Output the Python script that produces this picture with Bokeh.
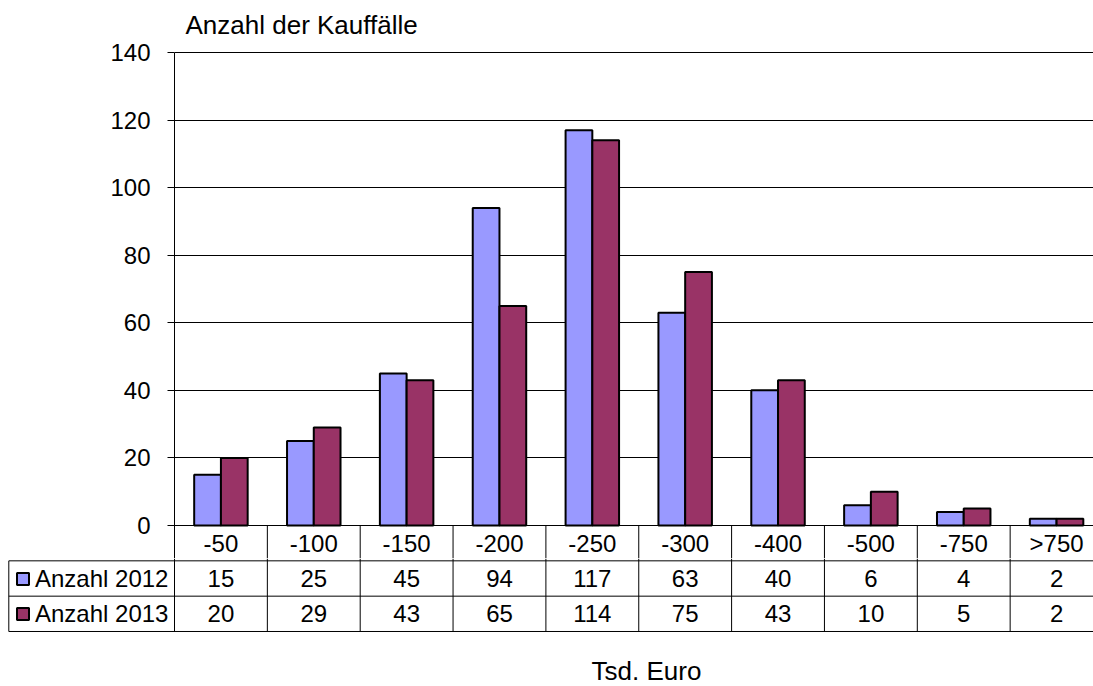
import numpy as np
from bokeh.plotting import figure
from bokeh.layouts import column
from bokeh.models import Range1d, FixedTicker, ColumnDataSource, Legend, LegendItem
from bokeh.core.properties import value
from bokeh.embed import file_html
from bokeh.resources import INLINE

# ---------------- data ----------------
categories = ["-50", "-100", "-150", "-200", "-250", "-300", "-400", "-500", "-750", ">750"]
anzahl_2012 = [15, 25, 45, 94, 117, 63, 40, 6, 4, 2]
anzahl_2013 = [20, 29, 43, 65, 114, 75, 43, 10, 5, 2]
series_names = ["Anzahl 2012", "Anzahl 2013"]
y_ticks = [0, 20, 40, 60, 80, 100, 120, 140]
y_title = "Anzahl der Kauffälle"
x_title = "Tsd. Euro"

# ---------------- layout (pixels) ----------------
W = 1093
FRAME_L = 174          # left edge of plot area
TOP_Y = 52             # pixel row of the highest tick (140)
ZERO_Y = 525           # pixel row of value 0
SPLIT = 558            # where the bar figure ends and the table figure starts
COL_PX = 92.85         # width of one category column
ROW_PX = 35.33         # data-table row height
H1 = SPLIT
H2 = 686 - SPLIT
TABLE_LEFT = 8.3

FONT = "Liberation Sans"
FS = "24px"
C2012 = "#9999FF"
C2013 = "#993366"

y_max = y_ticks[-1]
px_per_unit = (ZERO_Y - TOP_Y) / y_max
y_bottom = -(SPLIT - ZERO_Y) / px_per_unit
y_upper = y_max + TOP_Y / px_per_unit
x_end = (W - FRAME_L) / COL_PX
n = len(categories)
idx = np.arange(n)

# ================= top figure: bars + header row =================
p = figure(width=W, height=H1, output_backend="svg", toolbar_location=None,
           x_range=Range1d(0, x_end), y_range=Range1d(y_bottom, y_upper),
           x_axis_location=None,
           min_border_left=FRAME_L, min_border_right=0, min_border_top=0,
           min_border_bottom=0)
p.frame_align = False
p.outline_line_color = None
p.background_fill_color = "white"
p.border_fill_color = "white"

p.xgrid.visible = False
p.ygrid.ticker = FixedTicker(ticks=y_ticks)
p.ygrid.grid_line_color = "#000000"
p.ygrid.grid_line_width = 1
p.yaxis.ticker = FixedTicker(ticks=y_ticks)
p.yaxis.bounds = (y_bottom, y_max)
p.yaxis.major_label_text_font = FONT
p.yaxis.major_label_text_font_size = FS
p.yaxis.major_label_text_color = "black"
p.yaxis.major_tick_out = 7
p.yaxis.major_tick_in = 0
p.yaxis.minor_tick_line_color = None
p.yaxis.axis_line_color = "black"
p.yaxis.major_tick_line_color = "black"
p.yaxis.major_label_standoff = 17

bw = 0.288
src = ColumnDataSource(dict(x1=idx + 0.5 - bw / 2, x2=idx + 0.5 + bw / 2,
                            a=anzahl_2012, b=anzahl_2013))
p.vbar(x="x1", top="a", bottom=0, width=bw, source=src,
       fill_color=C2012, line_color="black", line_width=2)
p.vbar(x="x2", top="b", bottom=0, width=bw, source=src,
       fill_color=C2013, line_color="black", line_width=2)

# header row of the data table: column lines and category names
p.segment(x0=list(range(1, n)), x1=list(range(1, n)), y0=[0] * (n - 1),
          y1=[y_bottom] * (n - 1), line_color="black", line_width=1)
hdr_y = -(ROW_PX / 2) / px_per_unit
p.text(x=idx + 0.5, y=[hdr_y] * n, text=categories,
       text_align="center", text_baseline="middle", text_color="black",
       text_font=value(FONT), text_font_size=FS)

# value-axis title, above the plot area
p.text(x=[(185 - FRAME_L) / COL_PX], y=[y_max + (TOP_Y - 24) / px_per_unit], text=[y_title],
       text_align="left", text_baseline="middle", text_color="black",
       text_font=value(FONT), text_font_size="26px")

# ================= bottom figure: data rows =================
r_top = (SPLIT - ZERO_Y) / ROW_PX
r_bot = (686 - ZERO_Y) / ROW_PX
t = figure(width=W, height=H2, output_backend="svg", toolbar_location=None,
           x_range=Range1d(-FRAME_L / COL_PX, x_end), y_range=Range1d(r_bot, r_top),
           x_axis_location=None, y_axis_location=None,
           min_border_left=0, min_border_right=0, min_border_top=0, min_border_bottom=0)
t.frame_align = False
t.outline_line_color = None
t.grid.visible = False
t.background_fill_color = "white"
t.border_fill_color = "white"

tl = -(FRAME_L - TABLE_LEFT) / COL_PX
t.segment(x0=[tl] * 3, x1=[x_end] * 3, y0=[1, 2, 3], y1=[1, 2, 3],
          line_color="black", line_width=1)
t.segment(x0=list(range(0, n)), x1=list(range(0, n)), y0=[r_top] * n, y1=[3] * n,
          line_color="black", line_width=1)
t.segment(x0=[tl], x1=[tl], y0=[1], y1=[3], line_color="black", line_width=1)

cells = ColumnDataSource(dict(
    x=list(idx + 0.5) * 2,
    y=[1.5] * n + [2.5] * n,
    t=[str(v) for v in anzahl_2012] + [str(v) for v in anzahl_2013]))
t.text(x="x", y="y", text="t", source=cells,
       text_align="center", text_baseline="middle", text_color="black",
       text_font=value(FONT), text_font_size=FS)

# legend keys: hidden copies of the series, only their style is shown in the legend
k1 = t.vbar(x=idx + 0.5, top=anzahl_2012, bottom=0, width=bw, fill_color=C2012,
            line_color="black", line_width=2, visible=False)
k2 = t.vbar(x=idx + 0.5, top=anzahl_2013, bottom=0, width=bw, fill_color=C2013,
            line_color="black", line_width=2, visible=False)
legend = Legend(items=[LegendItem(label=series_names[0], renderers=[k1]),
                       LegendItem(label=series_names[1], renderers=[k2])],
                location=(15, 686 - 631), orientation="vertical", padding=0, margin=0,
                spacing=0, border_line_color=None, background_fill_alpha=0,
                inactive_fill_alpha=0,
                label_text_font=FONT, label_text_font_size=FS, label_text_color="black",
                glyph_width=15, glyph_height=15, label_height=35, label_standoff=5,
                label_text_baseline="middle")
t.add_layout(legend, "center")

t.text(x=[(646 - FRAME_L) / COL_PX], y=[(670 - ZERO_Y) / ROW_PX], text=[x_title],
       text_align="center", text_baseline="middle", text_color="black",
       text_font=value(FONT), text_font_size="26px")

open("out.html", "w").write(file_html(column(p, t, spacing=0), INLINE))
